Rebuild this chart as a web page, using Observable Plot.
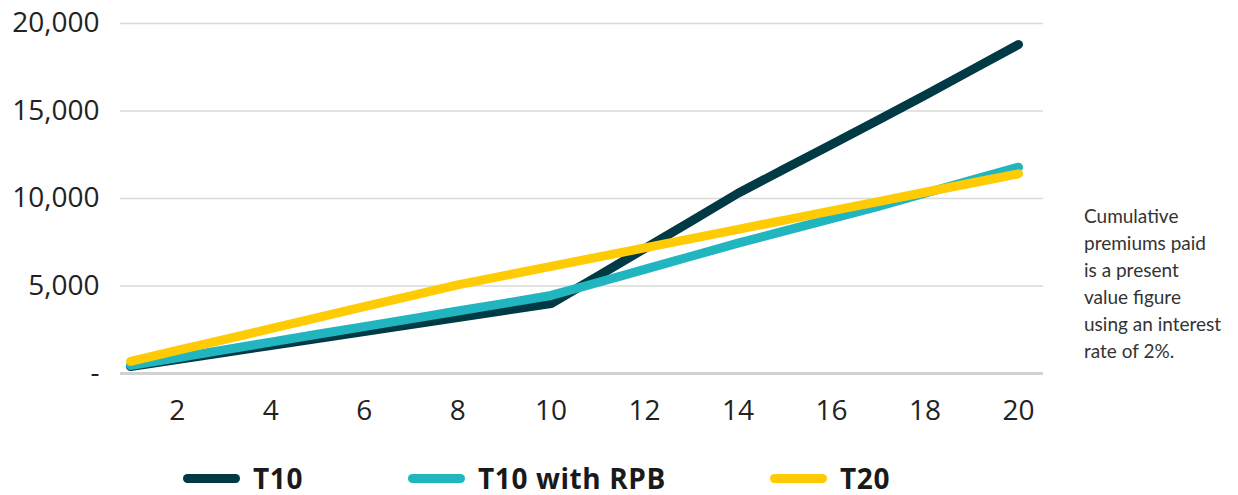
<!DOCTYPE html>
<html>
<head>
<meta charset="utf-8">
<script src="https://cdn.jsdelivr.net/npm/d3@7"></script>
<script src="https://cdn.jsdelivr.net/npm/@observablehq/plot@0.6"></script>
<style>
  html, body { margin: 0; padding: 0; background: #fff; }
  #wrap { position: relative; width: 1238px; font-family: "Open Sans", sans-serif; }
  #chart svg { display: block; }
  #note { position: absolute; left: 1084px; top: 203px; font-family: Lato, sans-serif; font-size: 19px; line-height: 26.9px; color: #333; white-space: nowrap; }
  #legend { display: flex; align-items: center; padding-left: 183px; padding-top: 22px; height: 32px; }
  .item { display: flex; align-items: center; font-family: "Open Sans", sans-serif; font-weight: 700; font-size: 28px; line-height: 32px; letter-spacing: 0.6px; color: #1a1a1a; white-space: nowrap; }
  .sw { width: 57px; height: 9px; border-radius: 5px; margin-right: 13px; flex: none; }
</style>
</head>
<body>
<div id="wrap">
  <div id="chart"></div>
  <div id="legend"></div>
  <div id="note">Cumulative<br>premiums paid<br>is a present<br>value figure<br>using an interest<br>rate of 2%.</div>
</div>
<script>
const years = [1,2,3,4,5,6,7,8,9,10,11,12,13,14,15,16,17,18,19,20];
const t10 = [400,800,1200,1600,2000,2400,2800,3200,3600,4000,5570,7140,8710,10300,11700,13080,14480,15900,17350,18800];
const t10rpb = [460,900,1350,1790,2240,2680,3120,3570,4010,4460,5200,5950,6700,7450,8150,8850,9550,10300,11050,11790];
const t20 = [690,1315,1940,2565,3190,3815,4440,5065,5594,6123,6652,7180,7710,8240,8768,9297,9826,10355,10884,11410];
const seriesNames = ["T10", "T10 with RPB", "T20"];
const seriesColors = ["#003a45", "#20b5bf", "#ffcb05"];
const yTicks = [0, 5000, 10000, 15000, 20000];
const xTicks = [2,4,6,8,10,12,14,16,18,20];
const legendItemWidths = [225, 362, 200];

const seriesValues = [t10, t10rpb, t20];
const rows = [];
seriesNames.forEach((name, i) => {
  years.forEach((yr, j) => rows.push({series: name, year: yr, value: seriesValues[i][j]}));
});

const fmt = d3.format(",");
const plot = Plot.plot({
  width: 1238,
  height: 440,
  marginTop: 23,
  marginBottom: 67,
  marginLeft: 120,
  marginRight: 195,
  style: {fontFamily: "'Open Sans', sans-serif", fontSize: "28px", color: "#222", background: "#fff"},
  x: {domain: [0.786, 20.535], label: null},
  y: {domain: [0, 20000], label: null},
  color: {domain: seriesNames, range: seriesColors},
  marks: [
    Plot.gridY(yTicks.filter(d => d > 0), {stroke: "#dadada", strokeOpacity: 1, strokeWidth: 1.5}),
    Plot.ruleY([0], {stroke: "#d2d2d2", strokeWidth: 3}),
    Plot.axisY(yTicks, {tickSize: 0, tickPadding: 21, tickFormat: d => d === 0 ? "-" : fmt(d), fill: "#222", label: null}),
    Plot.axisX(xTicks, {tickSize: 0, tickPadding: 27, fill: "#222", label: null}),
    Plot.line(rows, {x: "year", y: "value", stroke: "series", z: "series", strokeWidth: 9, strokeLinecap: "round", strokeLinejoin: "round"})
  ]
});
document.getElementById("chart").appendChild(plot);

const legend = document.getElementById("legend");
seriesNames.forEach((name, i) => {
  const item = document.createElement("div");
  item.className = "item";
  item.style.width = legendItemWidths[i] + "px";
  const sw = document.createElement("div");
  sw.className = "sw";
  sw.style.background = seriesColors[i];
  const label = document.createElement("span");
  label.textContent = name;
  item.appendChild(sw);
  item.appendChild(label);
  legend.appendChild(item);
});
</script>
</body>
</html>
